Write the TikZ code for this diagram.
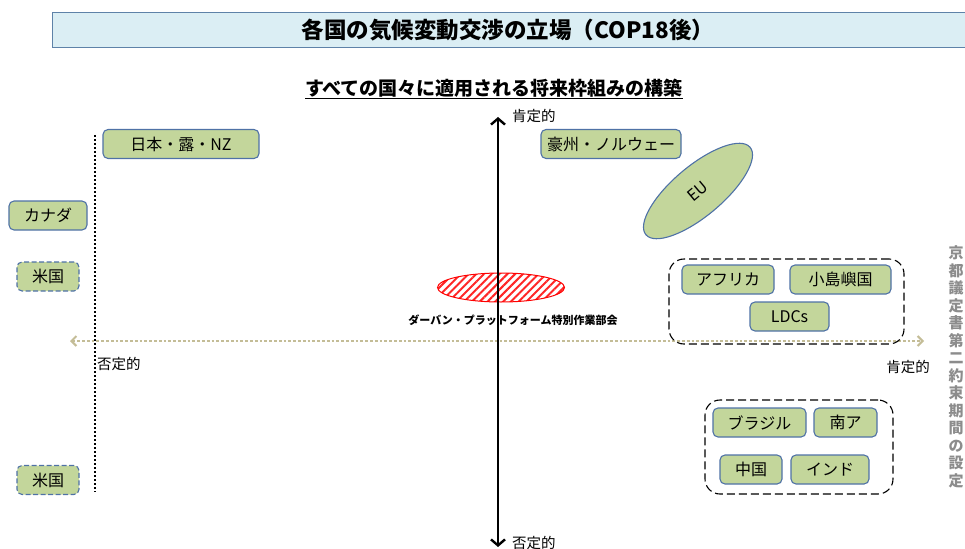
\documentclass[tikz,border=0pt]{standalone}
\usepackage{fontspec}
\setmainfont{Noto Sans CJK JP}
\usetikzlibrary{arrows.meta,shapes.geometric,patterns.meta}
\definecolor{boxgreen}{HTML}{C3D69B}
\definecolor{boxblue}{HTML}{4F72A6}
\definecolor{titlefill}{HTML}{DBEEF4}
\definecolor{titleline}{HTML}{5E82A8}
\definecolor{khaki}{HTML}{C4BD97}
\definecolor{vgray}{HTML}{8C8C8C}
\tikzset{
  cbox/.style={draw=boxblue, fill=boxgreen, line width=1.1pt, rounded corners=5pt,
    minimum height=29pt, inner sep=0pt, font=\fontsize{16}{18}\selectfont},
  usbox/.style={cbox, dash pattern=on 5pt off 2.5pt},
  grp/.style={draw=black, line width=1.1pt, rounded corners=15pt, dash pattern=on 8pt off 4pt, inner sep=0pt},
  axlabel/.style={font=\fontsize{14.5}{16}\selectfont, inner sep=0pt},
}
\begin{document}
\begin{tikzpicture}[x=1pt,y=-1pt]
\useasboundingbox (0,0) rectangle (965,548);
% title
\node[draw=titleline, fill=titlefill, line width=1.1pt, minimum width=918pt, minimum height=35pt, inner sep=0pt, anchor=north west] (titlebox) at (52,12) {};
\node[font=\bfseries\fontsize{22.5}{26}\selectfont, inner sep=0pt] (title) at (508,30) {各国の気候変動交渉の立場（COP18後）};
% subtitle
\node[font=\bfseries\fontsize{19}{22}\selectfont, inner sep=0pt] (sub) at (494,89) {\underline{すべての国々に適用される将来枠組みの構築}};
% axes
\coordinate (vt) at (498,117);
\coordinate (vb) at (498,547);
\coordinate (hl) at (70,341);
\coordinate (hr) at (924,341);
\coordinate (dt) at (95,135);
\coordinate (db) at (95,492);
\draw[khaki, line width=2.8pt, dotted, {Straight Barb[length=5pt,width=10pt,line width=2pt]}-{Straight Barb[length=5pt,width=10pt,line width=2pt]}] (hl) -- (hr);
\draw[black, line width=2pt, dotted] (dt) -- (db);
% hatched ellipse
\node[ellipse, draw=red, line width=1pt, minimum width=127pt, minimum height=29pt, inner sep=0pt,
  pattern={Lines[angle=45,distance=5.5pt,line width=2pt]}, pattern color=red!85] (dbp) at (501,287.5) {};
\draw[black, line width=2.8pt, {Straight Barb[length=6pt,width=14pt,line width=2.4pt]}-{Straight Barb[length=6pt,width=14pt,line width=2.4pt]}] (vb) -- (vt);
\node[font=\bfseries\fontsize{11}{13}\selectfont, inner sep=0pt] (dbplabel) at (513,320) {ダーバン・プラットフォーム特別作業部会};
% axis labels
\node[axlabel, anchor=west] (ptop) at (512,116) {肯定的};
\node[axlabel, anchor=west] (nbot) at (512,543) {否定的};
\node[axlabel, anchor=west] (nleft) at (97,364) {否定的};
\node[axlabel, anchor=east] (pright) at (930,367) {肯定的};
% groups
\node[grp, minimum width=235pt, minimum height=85pt] (g1) at (786.5,301.5) {};
\node[grp, minimum width=188pt, minimum height=94pt] (g2) at (799,447) {};
% country boxes
\node[cbox, minimum width=156pt] (jp) at (181,144) {日本・露・NZ};
\node[cbox, minimum width=78pt] (ca) at (48,215.5) {カナダ};
\node[usbox, minimum width=62pt] (us1) at (48,276.5) {米国};
\node[usbox, minimum width=62pt] (us2) at (48,480) {米国};
\node[cbox, minimum width=140pt] (au) at (611,144) {豪州・ノルウェー};
\node[cbox, minimum width=92pt] (af) at (728,279.5) {アフリカ};
\node[cbox, minimum width=101pt] (sids) at (840.5,279.5) {小島嶼国};
\node[cbox, minimum width=79pt] (ldc) at (789.5,316.5) {LDCs};
\node[cbox, minimum width=93pt] (br) at (759.5,422.5) {ブラジル};
\node[cbox, minimum width=63pt] (za) at (845.5,422.5) {南ア};
\node[cbox, minimum width=62pt] (cn) at (751,469.5) {中国};
\node[cbox, minimum width=78pt] (ind) at (830,469.5) {インド};
% EU ellipse
\node[ellipse, draw=boxblue, fill=boxgreen, line width=1.1pt, minimum width=136pt, minimum height=50pt, inner sep=0pt, rotate=40, font=\fontsize{16}{18}\selectfont] (eu) at (698,191) {EU};
% vertical text
\node[font=\bfseries\fontsize{15}{17.5}\selectfont, text=vgray, align=center, inner sep=0pt] (kp) at (956,367) {京\\都\\議\\定\\書\\第\\二\\約\\束\\期\\間\\の\\設\\定};
\end{tikzpicture}
\end{document}
